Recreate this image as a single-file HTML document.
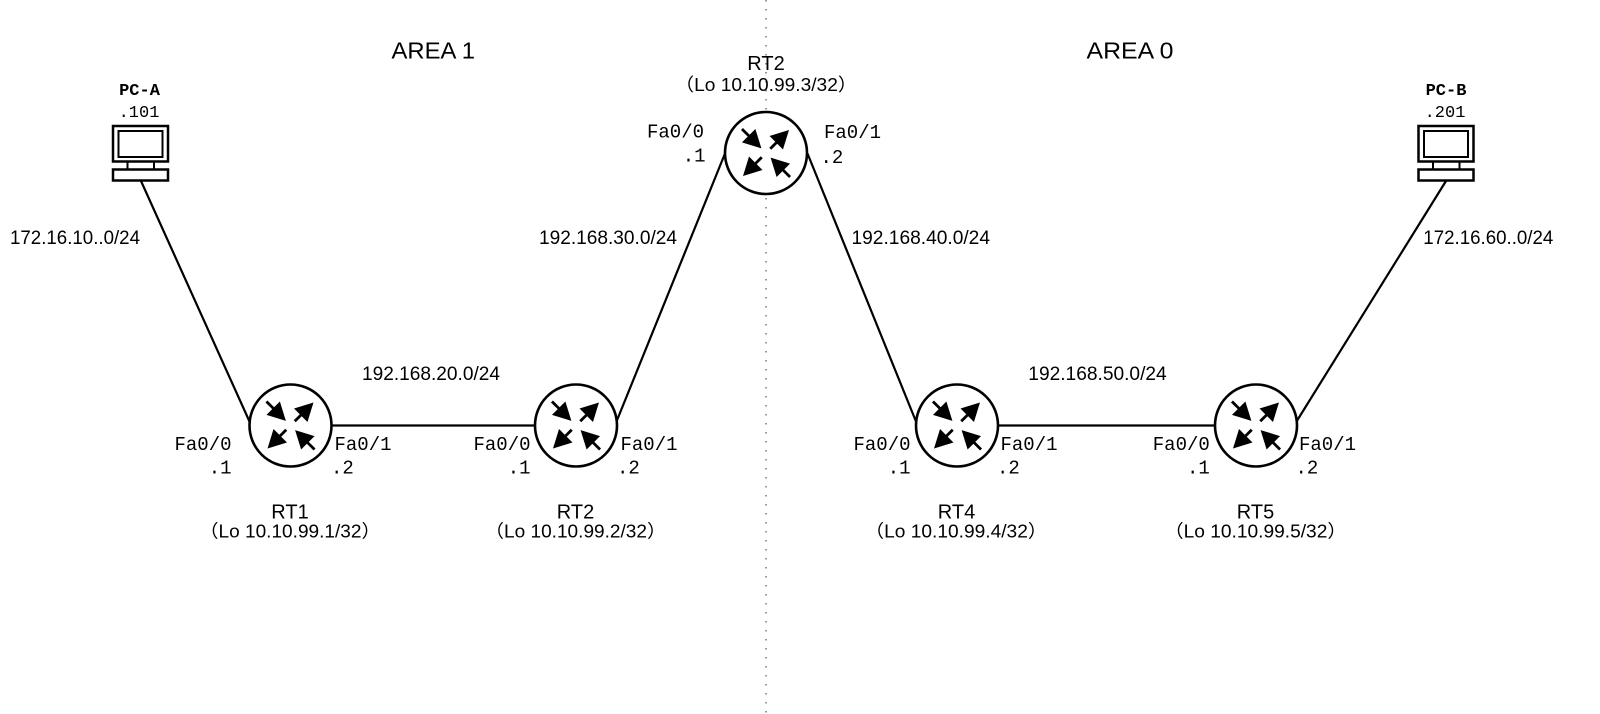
<!DOCTYPE html>
<html>
<head>
<meta charset="utf-8">
<style>
  html, body { margin: 0; padding: 0; background: #fff; }
  svg { display: block; }
  .sans { font-family: "Liberation Sans", "Noto Sans CJK JP", sans-serif; fill: #000; }
  .mono { font-family: "Liberation Mono", "DejaVu Sans Mono", monospace; fill: #000; }
</style>
</head>
<body>
<svg width="1600" height="714" viewBox="0 0 1600 714" xmlns="http://www.w3.org/2000/svg">
  <defs>
    <g id="ao">
      <line x1="6" y1="0" x2="17" y2="0" stroke="#000" stroke-width="2.8"/>
      <polygon points="32.5,0 14.5,-9.5 14.5,9.5" fill="#000"/>
    </g>
    <g id="ai">
      <line x1="22" y1="0" x2="34" y2="0" stroke="#000" stroke-width="2.8"/>
      <polygon points="6.5,0 24.5,-9.5 24.5,9.5" fill="#000"/>
    </g>
    <g id="rt">
      <circle cx="0" cy="0" r="41" fill="#fff" stroke="#000" stroke-width="2.6"/>
      <use href="#ai" transform="rotate(-135)"/>
      <use href="#ao" transform="rotate(-45)"/>
      <use href="#ao" transform="rotate(135)"/>
      <use href="#ai" transform="rotate(45)"/>
    </g>
    <g id="pc" fill="none" stroke="#000">
      <rect x="-27.5" y="126" width="55" height="35.5" stroke-width="2.5"/>
      <rect x="-22" y="131" width="44" height="26" stroke-width="2"/>
      <rect x="-13" y="161.5" width="26.5" height="8" stroke-width="2"/>
      <rect x="-27.5" y="169.5" width="55" height="11" stroke-width="2.5"/>
    </g>
  </defs>

  <!-- area divider -->
  <line x1="766" y1="0" x2="766" y2="714" stroke="#777" stroke-width="1.5" stroke-dasharray="1.5 7.5"/>

  <!-- links -->
  <g stroke="#000" stroke-width="2.2" fill="none">
    <line x1="141" y1="181" x2="249.5" y2="421.5"/>
    <line x1="331" y1="425.5" x2="535" y2="425.5"/>
    <line x1="616.5" y1="421.5" x2="725" y2="153.5"/>
    <line x1="807.5" y1="153.5" x2="916" y2="421.5"/>
    <line x1="998" y1="425.5" x2="1215" y2="425.5"/>
    <line x1="1296.5" y1="421.5" x2="1446" y2="181"/>
  </g>

  <!-- PCs -->
  <use href="#pc" transform="translate(140.5,0)"/>
  <use href="#pc" transform="translate(1446,0)"/>

  <!-- routers -->
  <use href="#rt" transform="translate(290.5,425.5)"/>
  <use href="#rt" transform="translate(576,425.5)"/>
  <use href="#rt" transform="translate(766,153)"/>
  <use href="#rt" transform="translate(957,425.5)"/>
  <use href="#rt" transform="translate(1256,425.5)"/>

  <!-- area titles -->
  <text class="sans" x="391.5" y="58.3" font-size="23.5" textLength="83.5" lengthAdjust="spacingAndGlyphs">AREA 1</text>
  <text class="sans" x="1086.5" y="58.3" font-size="23.5" textLength="87" lengthAdjust="spacingAndGlyphs">AREA 0</text>

  <!-- PC labels -->
  <text class="mono" x="139.5" y="95" font-size="17" font-weight="bold" text-anchor="middle">PC-A</text>
  <text class="mono" x="139" y="117" font-size="17" text-anchor="middle">.101</text>
  <text class="mono" x="1446" y="95" font-size="17" font-weight="bold" text-anchor="middle">PC-B</text>
  <text class="mono" x="1445" y="117" font-size="17" text-anchor="middle">.201</text>

  <!-- network labels -->
  <text class="sans" x="10" y="244" font-size="19" textLength="130" lengthAdjust="spacingAndGlyphs">172.16.10..0/24</text>
  <text class="sans" x="539" y="244" font-size="19" textLength="138" lengthAdjust="spacingAndGlyphs">192.168.30.0/24</text>
  <text class="sans" x="851.5" y="244" font-size="19" textLength="138.5" lengthAdjust="spacingAndGlyphs">192.168.40.0/24</text>
  <text class="sans" x="1423.3" y="244" font-size="19" textLength="130" lengthAdjust="spacingAndGlyphs">172.16.60..0/24</text>
  <text class="sans" x="362" y="380" font-size="19" textLength="138" lengthAdjust="spacingAndGlyphs">192.168.20.0/24</text>
  <text class="sans" x="1028.3" y="380" font-size="19" textLength="138.4" lengthAdjust="spacingAndGlyphs">192.168.50.0/24</text>

  <!-- interface labels: RT1 -->
  <text class="mono" x="231.5" y="450" font-size="19" text-anchor="end">Fa0/0</text>
  <text class="mono" x="231.5" y="473.5" font-size="19" text-anchor="end">.1</text>
  <text class="mono" x="334.5" y="450" font-size="19">Fa0/1</text>
  <text class="mono" x="331" y="473.5" font-size="19">.2</text>

  <!-- RT2 bottom -->
  <text class="mono" x="530.5" y="450" font-size="19" text-anchor="end">Fa0/0</text>
  <text class="mono" x="530.5" y="473.5" font-size="19" text-anchor="end">.1</text>
  <text class="mono" x="620.5" y="450" font-size="19">Fa0/1</text>
  <text class="mono" x="617" y="473.5" font-size="19">.2</text>

  <!-- RT2 top -->
  <text class="mono" x="704" y="137.5" font-size="19" text-anchor="end">Fa0/0</text>
  <text class="mono" x="705.5" y="161.5" font-size="19" text-anchor="end">.1</text>
  <text class="mono" x="824" y="138" font-size="19">Fa0/1</text>
  <text class="mono" x="820.5" y="163" font-size="19">.2</text>

  <!-- RT4 -->
  <text class="mono" x="910.5" y="450" font-size="19" text-anchor="end">Fa0/0</text>
  <text class="mono" x="910.5" y="473.5" font-size="19" text-anchor="end">.1</text>
  <text class="mono" x="1000.5" y="450" font-size="19">Fa0/1</text>
  <text class="mono" x="997" y="473.5" font-size="19">.2</text>

  <!-- RT5 -->
  <text class="mono" x="1209.8" y="450" font-size="19" text-anchor="end">Fa0/0</text>
  <text class="mono" x="1209.8" y="473.5" font-size="19" text-anchor="end">.1</text>
  <text class="mono" x="1299" y="450" font-size="19">Fa0/1</text>
  <text class="mono" x="1295.5" y="473.5" font-size="19">.2</text>

  <!-- router names -->
  <text class="sans" x="290" y="518.3" font-size="20" text-anchor="middle">RT1</text>
  <text class="sans" x="575.5" y="518.3" font-size="20" text-anchor="middle">RT2</text>
  <text class="sans" x="766" y="70" font-size="20" text-anchor="middle">RT2</text>
  <text class="sans" x="956.5" y="518.3" font-size="20" text-anchor="middle">RT4</text>
  <text class="sans" x="1255.5" y="518.3" font-size="20" text-anchor="middle">RT5</text>

  <!-- loopbacks -->
  <text class="sans" x="290" y="537.5" font-size="18" text-anchor="middle" textLength="181" lengthAdjust="spacingAndGlyphs">（Lo 10.10.99.1/32）</text>
  <text class="sans" x="575.5" y="537.5" font-size="18" text-anchor="middle" textLength="181" lengthAdjust="spacingAndGlyphs">（Lo 10.10.99.2/32）</text>
  <text class="sans" x="766" y="91" font-size="18" text-anchor="middle" textLength="182" lengthAdjust="spacingAndGlyphs">（Lo 10.10.99.3/32）</text>
  <text class="sans" x="956" y="537.5" font-size="18" text-anchor="middle" textLength="182" lengthAdjust="spacingAndGlyphs">（Lo 10.10.99.4/32）</text>
  <text class="sans" x="1255.5" y="537.5" font-size="18" text-anchor="middle" textLength="182" lengthAdjust="spacingAndGlyphs">（Lo 10.10.99.5/32）</text>
</svg>
</body>
</html>
